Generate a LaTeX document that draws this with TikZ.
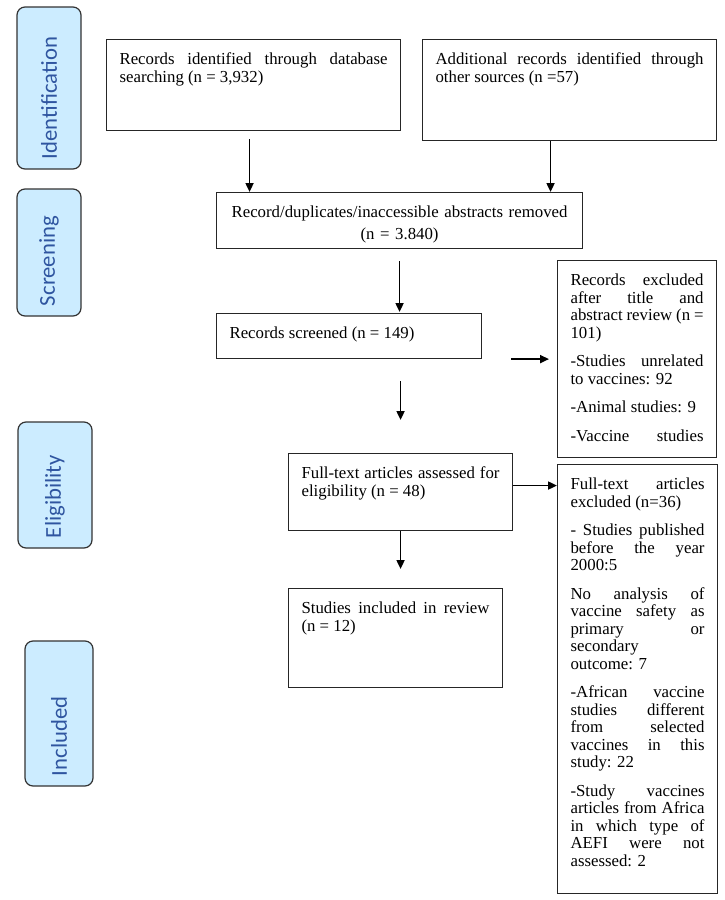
\documentclass[tikz,border=0pt]{standalone}
\usepackage{fontspec}
\setmainfont{Liberation Serif}
\newfontfamily\sidefont{Carlito}
\usetikzlibrary{arrows.meta}
\definecolor{phasefill}{RGB}{204,236,255}
\definecolor{phasetext}{RGB}{47,85,160}
\hyphenpenalty=10000
\exhyphenpenalty=10000

\begin{document}
\begin{tikzpicture}[x=1pt,y=-1pt,
  box/.style={draw=black!85,line width=1.1pt,anchor=north west,align=justify,
    font=\fontsize{16.8}{17.5}\selectfont,inner xsep=13pt,inner ysep=0pt,text height=25pt},
  phase/.style={draw=black!80,line width=1.2pt,rounded corners=8pt,fill=phasefill,
    text=phasetext,font=\sidefont\fontsize{22.7}{24}\selectfont,rotate=90,
    inner xsep=10pt,inner ysep=0pt,align=left},
  arr/.style={-{Triangle[length=9pt,width=8pt]},line width=1.8pt}]
 % \draw[help lines] (0,0) grid (725,900);
  \useasboundingbox (0,0) rectangle (725,900);
  \node[phase,text width=142pt,minimum height=64pt] (pid)  at (49,88)    {Identification};
  \node[phase,text width=107pt,minimum height=64pt] (pscr) at (49,252.5) {Screening};
  \node[phase,text width=106pt,minimum height=74pt] (pel)  at (55,485)   {Eligibility};
  \node[phase,text width=125pt,minimum height=68pt] (pinc) at (59,713.5) {Included};

  \node[box,text width=268pt,text depth=66pt] (db)  at (106,39)
    {Records identified through database\linebreak searching (n = 3,932)};
  \node[box,text width=268pt,text depth=76pt] (oth) at (422,39)
    {Additional records identified through\linebreak other sources (n =57)};
  \node[box,align=center,text width=340pt,text depth=31pt] (dup) at (216,192)
    {Record/duplicates/inaccessible abstracts removed\\[4pt] (n = 3.840)};
  \node[box,text width=239pt,text depth=20pt] (scr) at (216,313)
    {Records screened (n = 149)};
  \node[box,text width=133pt,text depth=172pt] (exscr) at (557,260)
    {Records excluded\linebreak after title and\linebreak abstract review (n =\linebreak 101)\\[11pt]
     -Studies unrelated\linebreak to vaccines: 92\\[11pt]
     -Animal studies: 9\\[11pt]
     -Vaccine\hfill studies};
  \node[box,text width=198pt,text depth=52pt] (full) at (288,453)
    {Full-text articles assessed for\linebreak eligibility (n = 48)};
  \node[box,text width=134pt,text depth=404pt] (exfull) at (557,464)
    {Full-text articles\linebreak excluded (n=36)\\[11pt]
     - Studies published\linebreak before the year\linebreak 2000:5\\[11pt]
     No analysis of\linebreak vaccine safety as\linebreak primary or\linebreak secondary\linebreak outcome: 7\\[11pt]
     -African vaccine\linebreak studies different\linebreak from selected\linebreak vaccines in this\linebreak study: 22\\[11pt]
     -Study vaccines\linebreak articles from Africa\linebreak in which type of\linebreak AEFI were not\linebreak assessed: 2};
  \node[box,text width=188pt,text depth=74pt] (inc) at (288,588)
    {Studies included in review\linebreak (n = 12)};

  \draw[arr,shorten <=8pt] ([xshift=-4pt]db.south) -- ([xshift=-4pt]db.south |- dup.north);
  \draw[arr] ([xshift=-19pt]oth.south) -- ([xshift=-19pt]oth.south |- dup.north);
  \draw[arr,shorten <=12pt,shorten >=1pt] (dup.south) -- (dup.south |- scr.north);
  \draw[arr,shorten <=29pt,shorten >=8pt] (scr.south east) -- (scr.south east -| exscr.west);
  \draw[arr,shorten <=22pt,shorten >=33pt] (scr.south -| full.north) -- (full.north);
  \draw[arr] ([yshift=6.5pt]full.east) -- ([yshift=6.5pt]full.east -| exfull.west);
  \draw[arr,shorten >=19pt] (full.south) -- (full.south |- inc.north);
\end{tikzpicture}
\end{document}
